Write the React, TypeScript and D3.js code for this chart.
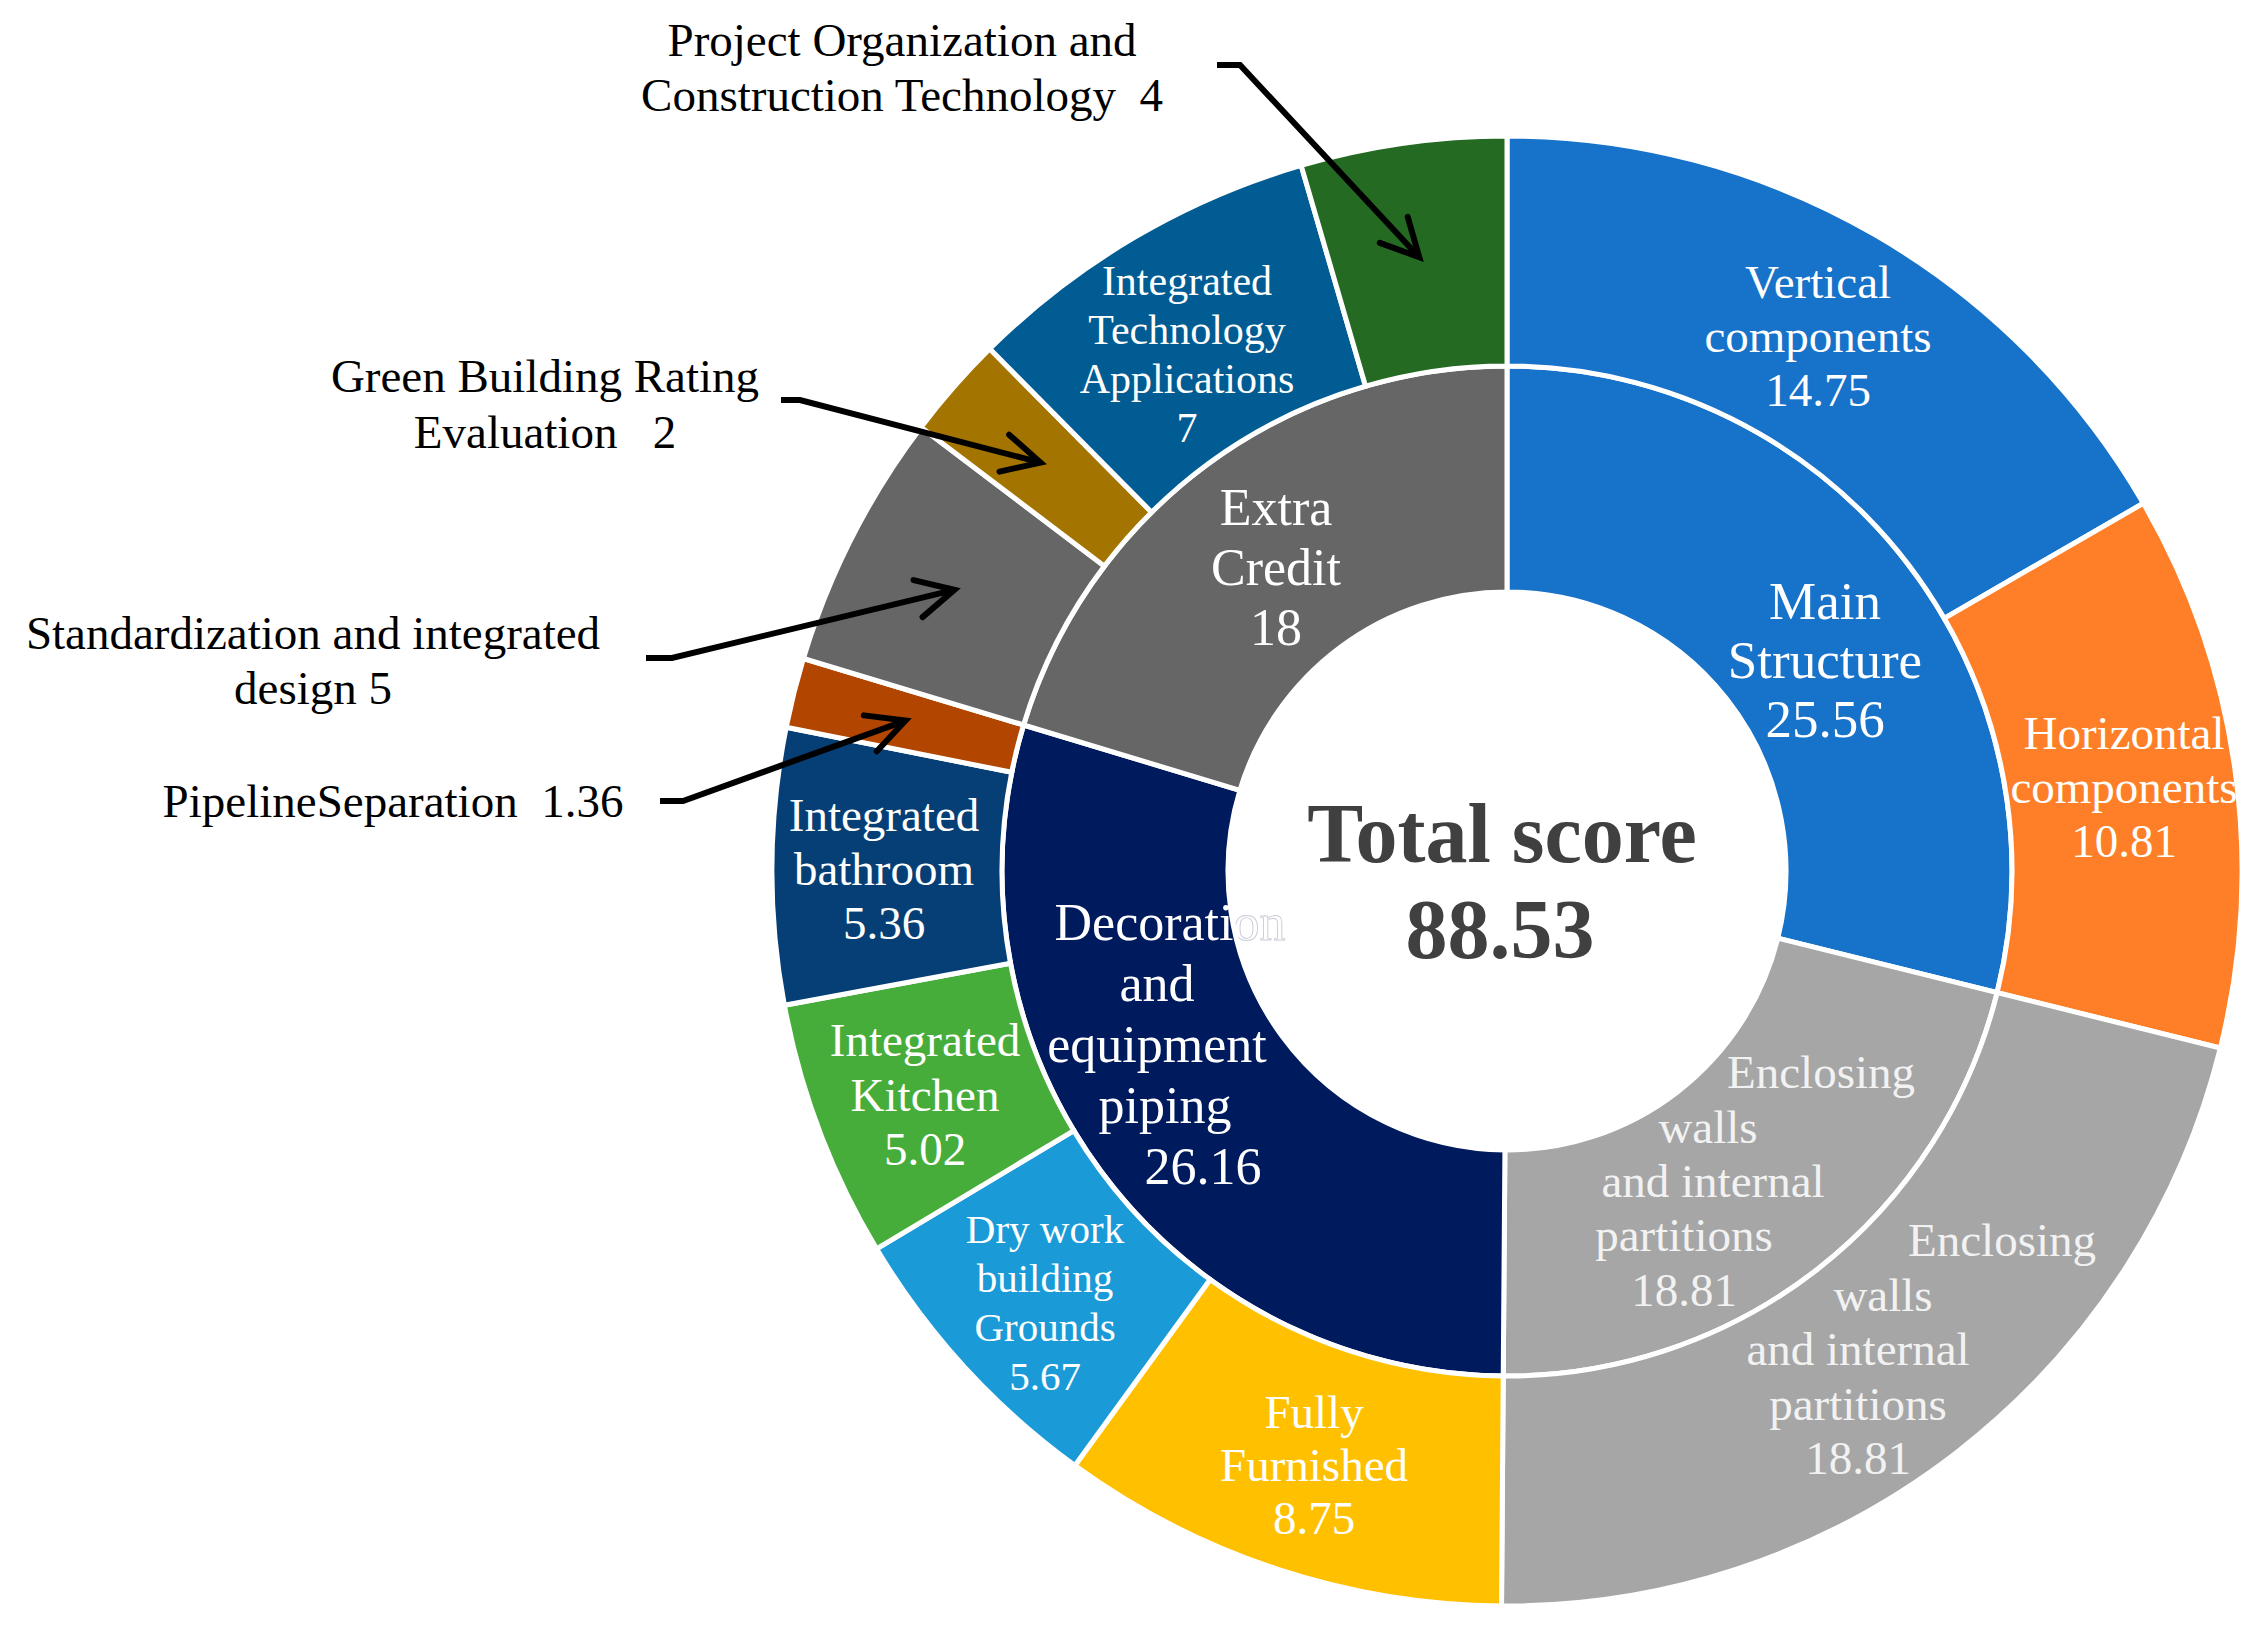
import React from "react";
import * as d3 from "d3";

// ---------- data ----------
const innerCategories = [
  "Main Structure",
  "Enclosing walls and internal partitions",
  "Decoration and equipment piping",
  "Extra Credit",
];
const innerNameLines = [
  ["Main", "Structure"],
  ["Enclosing", "walls", "and internal", "partitions"],
  ["Decoration", "and", "equipment", "piping"],
  ["Extra", "Credit"],
];
const innerValues = [25.56, 18.81, 26.16, 18];
const innerColors = ["#1772C9", "#A6A6A6", "#001A5E", "#666666"];

const outerCategories = [
  "Vertical components",
  "Horizontal components",
  "Enclosing walls and internal partitions",
  "Fully Furnished",
  "Dry work building Grounds",
  "Integrated Kitchen",
  "Integrated bathroom",
  "PipelineSeparation",
  "Standardization and integrated design",
  "Green Building Rating Evaluation",
  "Integrated Technology Applications",
  "Project Organization and Construction Technology",
];
const outerNameLines = [
  ["Vertical", "components"],
  ["Horizontal", "components"],
  ["Enclosing", "walls", "and internal", "partitions"],
  ["Fully", "Furnished"],
  ["Dry work", "building", "Grounds"],
  ["Integrated", "Kitchen"],
  ["Integrated", "bathroom"],
  ["PipelineSeparation  "],
  ["Standardization and integrated", "design "],
  ["Green Building Rating", "Evaluation   "],
  ["Integrated", "Technology", "Applications"],
  ["Project Organization and", "Construction Technology  "],
];
const outerValues = [14.75, 10.81, 18.81, 8.75, 5.67, 5.02, 5.36, 1.36, 5, 2, 7, 4];
const outerColors = [
  "#1772C9",
  "#FE7F27",
  "#A6A6A6",
  "#FFC000",
  "#1A9BD7",
  "#47AD3A",
  "#063F75",
  "#B24600",
  "#666666",
  "#A37400",
  "#005C93",
  "#256A22",
];
const totalLabel = "Total score";
const totalValue = d3.sum(innerValues);

// ---------- layout ----------
const W = 2266;
const H = 1638;
const cx = 1507;
const cy = 871;
const R_HOLE = 279;
const R_MID = 505;
const R_OUT = 735;
const FONT = "'Liberation Serif', 'Times New Roman', serif";

type LabelLayout = { xs: number[]; y0: number; lh: number; size: number; fill?: string };

const innerLayout: LabelLayout[] = [
  { xs: [318], y0: -271, lh: 59, size: 53 },
  { xs: [314, 201, 206, 177, 177], y0: 201, lh: 54.3, size: 47, fill: "#F2F2F2" },
  { xs: [-337, -350, -350, -342, -304], y0: 51, lh: 61, size: 52 },
  { xs: [-231], y0: -364, lh: 60, size: 52 },
];

const outerLayout: (LabelLayout | null)[] = [
  { xs: [311], y0: -589, lh: 54, size: 47 },
  { xs: [617], y0: -138, lh: 54, size: 47 },
  { xs: [495, 376, 351, 351, 351], y0: 369, lh: 54.5, size: 47, fill: "#F2F2F2" },
  { xs: [-193], y0: 541, lh: 53, size: 47 },
  { xs: [-462], y0: 358, lh: 49, size: 41 },
  { xs: [-582], y0: 169, lh: 54.5, size: 47 },
  { xs: [-623], y0: -56, lh: 54, size: 47 },
  null,
  null,
  null,
  { xs: [-320], y0: -591, lh: 49, size: 42 },
  null,
];

// external callouts: text position (absolute) and elbow start
const callouts: { [k: number]: { x: number; ys: number[]; elbow: [number, number][] } } = {
  7: { x: 393, ys: [801], elbow: [[660, 801], [683, 801]] },
  8: { x: 313, ys: [633, 688], elbow: [[646, 658], [672, 658]] },
  9: { x: 545, ys: [376, 432], elbow: [[781, 400], [800, 400]] },
  11: { x: 902, ys: [40, 95], elbow: [[1217, 65], [1240, 65]] },
};

const fmt = (v: number) => String(v);

function linesFor(names: string[], v: number) {
  const out = names.slice();
  return [...out, fmt(v)];
}

export default function App() {
  const pie = d3
    .pie<number>()
    .sort(null)
    .value((d) => d)
    .startAngle(0)
    .endAngle(2 * Math.PI);

  const innerArcs = pie(innerValues);
  const outerArcs = pie(outerValues);

  const innerArc = d3.arc<d3.PieArcDatum<number>>().innerRadius(R_HOLE).outerRadius(R_MID);
  const outerArc = d3.arc<d3.PieArcDatum<number>>().innerRadius(R_MID).outerRadius(R_OUT);
  const midArc = d3
    .arc<d3.PieArcDatum<number>>()
    .innerRadius((R_MID + R_OUT) / 2)
    .outerRadius((R_MID + R_OUT) / 2);

  const renderLabel = (lines: string[], lay: LabelLayout, key: string) => (
    <text
      key={key}
      fontFamily={FONT}
      fontSize={lay.size}
      fill={lay.fill || "#FFFFFF"}
      textAnchor="middle"
      style={{ whiteSpace: "pre" }}
    >
      {lines.map((t, i) => (
        <tspan key={i} x={lay.xs[Math.min(i, lay.xs.length - 1)]} y={lay.y0 + i * lay.lh} dy="0.35em">
          {t}
        </tspan>
      ))}
    </text>
  );

  const decoLines = linesFor(innerNameLines[2], innerValues[2]);

  // arrow heads
  const arrowHead = (from: [number, number], tip: [number, number]) => {
    const dx = tip[0] - from[0];
    const dy = tip[1] - from[1];
    const len = Math.hypot(dx, dy);
    const ux = dx / len;
    const uy = dy / len;
    const a = (27 * Math.PI) / 180;
    const L = 42;
    const rot = (s: number): [number, number] => {
      const bx = -ux;
      const by = -uy;
      return [
        tip[0] + L * (bx * Math.cos(s * a) - by * Math.sin(s * a)),
        tip[1] + L * (bx * Math.sin(s * a) + by * Math.cos(s * a)),
      ];
    };
    const p1 = rot(1);
    const p2 = rot(-1);
    return `M${p1[0]},${p1[1]}L${tip[0]},${tip[1]}L${p2[0]},${p2[1]}`;
  };

  return (
    <svg
      width={W}
      height={H}
      viewBox={`0 0 ${W} ${H}`}
      style={{ position: "absolute", left: 0, top: 0, display: "block", background: "#FFFFFF" }}
    >
      <rect x={0} y={0} width={W} height={H} fill="#FFFFFF" />
      <defs>
        <clipPath id="holeClip">
          <circle cx={0} cy={0} r={R_HOLE - 2.5} />
        </clipPath>
      </defs>
      <g transform={`translate(${cx},${cy})`}>
        {/* inner ring */}
        {innerArcs.map((a, i) => (
          <path
            key={`in-${i}`}
            d={innerArc(a) || ""}
            fill={innerColors[i]}
            stroke="#FFFFFF"
            strokeWidth={5}
            strokeLinejoin="miter"
          >
            <title>{innerCategories[i]}</title>
          </path>
        ))}
        {/* outer ring */}
        {outerArcs.map((a, i) => (
          <path
            key={`out-${i}`}
            d={outerArc(a) || ""}
            fill={outerColors[i]}
            stroke="#FFFFFF"
            strokeWidth={5}
            strokeLinejoin="miter"
          >
            <title>{outerCategories[i]}</title>
          </path>
        ))}

        {/* outer labels inside slices */}
        {outerArcs.map((a, i) => {
          const lay = outerLayout[i];
          if (!lay) return null;
          return renderLabel(linesFor(outerNameLines[i], outerValues[i]), lay, `ol-${i}`);
        })}
        {/* inner labels */}
        {innerArcs.map((a, i) => renderLabel(linesFor(innerNameLines[i], innerValues[i]), innerLayout[i], `il-${i}`))}

        {/* white hole */}
        <circle cx={0} cy={0} r={R_HOLE - 2.5} fill="#FFFFFF" />
        {/* faint ghost of the label part hidden by the hole */}
        <g clipPath="url(#holeClip)">
          <text
            fontFamily={FONT}
            fontSize={innerLayout[2].size}
            fill="#FFFFFF"
            stroke="#C9CBD6"
            strokeWidth={0.9}
            textAnchor="middle"
          >
            <tspan x={innerLayout[2].xs[0]} y={innerLayout[2].y0} dy="0.35em">
              {decoLines[0]}
            </tspan>
          </text>
        </g>

        {/* center text */}
        <text
          x={-5}
          y={862 - cy}
          textAnchor="middle"
          fontFamily={FONT}
          fontWeight="bold"
          fontSize={84}
          fill="#404040"
        >
          {totalLabel}
        </text>
        <text
          x={-7}
          y={958 - cy}
          textAnchor="middle"
          fontFamily={FONT}
          fontWeight="bold"
          fontSize={84}
          fill="#404040"
        >
          {totalValue.toFixed(2)}
        </text>
      </g>

      {/* external callouts */}
      {Object.keys(callouts).map((k) => {
        const i = Number(k);
        const c = callouts[i];
        const cen = midArc.centroid(outerArcs[i]);
        const tip: [number, number] = [cx + cen[0], cy + cen[1]];
        const lines = linesFor(outerNameLines[i], outerValues[i]);
        // merge value into last line
        const merged = lines.slice(0, -2).concat([lines[lines.length - 2] + lines[lines.length - 1]]);
        const pts = [...c.elbow, tip];
        const line = d3.line()(pts as [number, number][]) || "";
        return (
          <g key={`co-${i}`}>
            <text
              fontFamily={FONT}
              fontSize={47}
              fill="#000000"
              textAnchor="middle"
              style={{ whiteSpace: "pre" }}
            >
              {merged.map((t, j) => (
                <tspan key={j} x={c.x} y={c.ys[j]} dy="0.35em">
                  {t}
                </tspan>
              ))}
            </text>
            <path d={line} fill="none" stroke="#000000" strokeWidth={6} strokeLinejoin="miter" />
            <path
              d={arrowHead(c.elbow[c.elbow.length - 1], tip)}
              fill="none"
              stroke="#000000"
              strokeWidth={6}
              strokeLinecap="round"
              strokeLinejoin="miter"
            />
          </g>
        );
      })}
    </svg>
  );
}
